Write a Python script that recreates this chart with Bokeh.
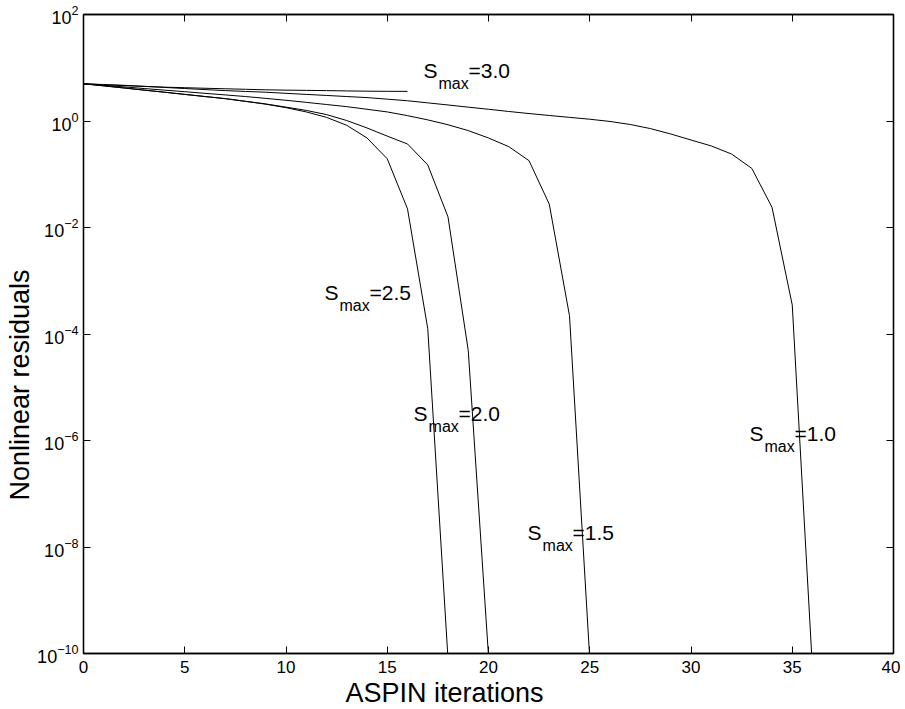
from bokeh.plotting import figure
from bokeh.models import Label, FixedTicker, LinearAxis, LogAxis, Range1d, Title
from bokeh.embed import file_html
from bokeh.resources import INLINE

# ---- data ----
iters_s10 = list(range(0, 37))
res_s10 = [5.0, 4.84, 4.68, 4.47, 4.27, 4.07, 3.89, 3.72, 3.59, 3.47, 3.31,
           3.16, 3.02, 2.88, 2.75, 2.57, 2.40, 2.19, 2.00, 1.82, 1.66, 1.51,
           1.38, 1.27, 1.17, 1.08, 0.98, 0.86, 0.72, 0.57, 0.44, 0.34, 0.24,
           0.129, 0.024, 3.5e-4, 5e-11]

iters_s15 = list(range(0, 26))
res_s15 = [5.0, 4.68, 4.37, 4.07, 3.80, 3.55, 3.31, 3.09, 2.88, 2.66, 2.45,
           2.24, 2.04, 1.86, 1.66, 1.48, 1.26, 1.05, 0.85, 0.66, 0.48, 0.33,
           0.18, 0.0275, 2.2e-4, 8e-11]

iters_s20 = list(range(0, 21))
res_s20 = [5.0, 4.57, 4.17, 3.80, 3.47, 3.16, 2.88, 2.63, 2.34, 2.09, 1.82,
           1.58, 1.32, 1.02, 0.74, 0.52, 0.37, 0.15, 0.0158, 4.9e-5, 9e-11]

iters_s25 = list(range(0, 19))
res_s25 = [5.0, 4.57, 4.17, 3.80, 3.47, 3.16, 2.88, 2.63, 2.34, 2.07, 1.78,
           1.48, 1.17, 0.83, 0.48, 0.195, 0.0224, 1.26e-4, 8e-11]

iters_s30 = list(range(0, 17))
res_s30 = [5.0, 4.79, 4.62, 4.47, 4.32, 4.22, 4.12, 4.03, 3.94, 3.85, 3.80,
           3.76, 3.72, 3.67, 3.63, 3.61, 3.60]

series_iters = [iters_s10, iters_s15, iters_s20, iters_s25, iters_s30]
series_res = [res_s10, res_s15, res_s20, res_s25, res_s30]

label_values = ["=1.0", "=1.5", "=2.0", "=2.5", "=3.0"]
label_x = [32.89, 21.93, 16.30, 11.90, 16.79]
label_y = [1.35e-6, 1.87e-8, 3.21e-6, 6.14e-4, 8.87]

xtick_vals = [0, 5, 10, 15, 20, 25, 30, 35, 40]
ytick_vals = [1e-10, 1e-8, 1e-6, 1e-4, 1e-2, 1e0, 1e2]

FONT = "Liberation Sans"

p = figure(width=900, height=709, x_range=Range1d(0, 40),
           y_range=Range1d(1e-10, 1e2), y_axis_type="log",
           output_backend="svg", toolbar_location=None,
           min_border_left=83, min_border_right=7, min_border_top=14,
           min_border_bottom=56)
p.grid.visible = False
p.outline_line_color = "black"
p.outline_line_width = 1.3
p.background_fill_color = "white"
p.border_fill_color = "white"

def style_axis(ax, show_labels, size="17px"):
    ax.major_tick_in = 7
    ax.major_tick_out = 0
    ax.minor_tick_line_color = None
    ax.axis_line_color = "black"
    ax.axis_line_width = 1.3
    ax.major_tick_line_color = "black"
    ax.major_tick_line_width = 1
    if show_labels:
        ax.major_label_text_font = FONT
        ax.major_label_text_font_size = size
        ax.major_label_text_color = "black"
    else:
        ax.major_label_text_font_size = "1px"
        ax.major_label_text_alpha = 0
        ax.major_label_standoff = 0

xax = p.xaxis[0]
xax.ticker = FixedTicker(ticks=xtick_vals)
style_axis(xax, True)
xax.major_label_standoff = 7

yax = p.yaxis[0]
yax.ticker = FixedTicker(ticks=ytick_vals)
style_axis(yax, True, "18px")
yax.major_label_standoff = 5

top = LinearAxis(ticker=FixedTicker(ticks=xtick_vals))
style_axis(top, False)
p.add_layout(top, "above")
right = LogAxis(ticker=FixedTicker(ticks=ytick_vals))
style_axis(right, False)
p.add_layout(right, "right")

# axis titles as side titles so that their offset can match the reference
p.add_layout(Title(text="ASPIN iterations", align="left", offset=262,
                   text_font=FONT, text_font_size="27px",
                   text_font_style="normal", text_color="black",
                   standoff=0), "below")
p.add_layout(Title(text="Nonlinear residuals", align="left", offset=153,
                   text_font=FONT, text_font_size="27px",
                   text_font_style="normal", text_color="black",
                   standoff=0), "left")

for xs, ys in zip(series_iters, series_res):
    p.line(xs, ys, line_color="black", line_width=1)

# curve labels S_max=...
for lx, ly, lv in zip(label_x, label_y, label_values):
    p.add_layout(Label(x=lx, y=ly, text="S", text_font=FONT,
                       text_font_size="21px", text_baseline="alphabetic",
                       text_align="left", text_color="black"))
    p.add_layout(Label(x=lx, y=ly, x_offset=15, y_offset=-13, text="max",
                       text_font=FONT, text_font_size="16px",
                       text_baseline="alphabetic", text_align="left",
                       text_color="black"))
    p.add_layout(Label(x=lx, y=ly, x_offset=45, text=lv, text_font=FONT,
                       text_font_size="21px", text_baseline="alphabetic",
                       text_align="left", text_color="black"))

open("out.html", "w").write(file_html(p, INLINE))
